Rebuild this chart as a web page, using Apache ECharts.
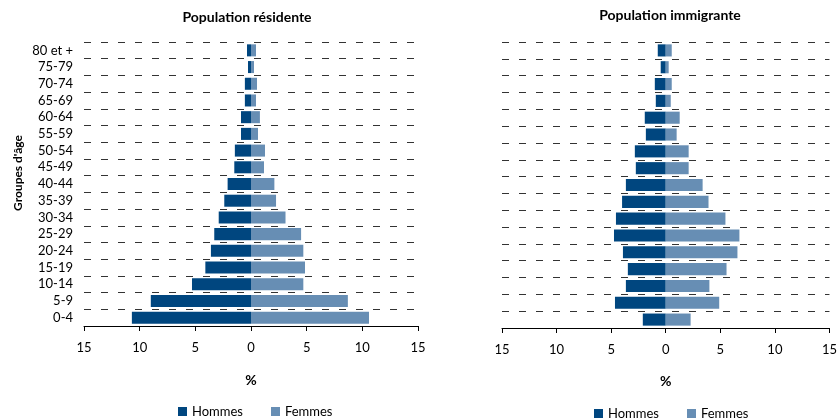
<!DOCTYPE html>
<html>
<head>
<meta charset="utf-8">
<script src="https://cdn.jsdelivr.net/npm/echarts@6/dist/echarts.min.js"></script>
<style>
  html, body { margin: 0; padding: 0; background: #fff; }
  #chart { width: 840px; height: 420px; }
</style>
</head>
<body>
<div id="chart"></div>
<script>
// Age groups, from youngest (bottom) to oldest (top)
const ageGroups = ['0-4', '5-9', '10-14', '15-19', '20-24', '25-29', '30-34', '35-39', '40-44',
  '45-49', '50-54', '55-59', '60-64', '65-69', '70-74', '75-79', '80 et +'];

// Share of each age group, in %
const residentMen = [10.7, 9.0, 5.3, 4.1, 3.6, 3.3, 2.9, 2.4, 2.1, 1.5, 1.45, 0.9, 0.9, 0.55, 0.55, 0.27, 0.36];
const residentWomen = [10.6, 8.7, 4.7, 4.85, 4.7, 4.5, 3.1, 2.25, 2.1, 1.17, 1.26, 0.63, 0.8, 0.45, 0.54, 0.27, 0.45];
const immigrantMen = [2.1, 4.65, 3.65, 3.47, 3.92, 4.74, 4.56, 4.0, 3.65, 2.74, 2.83, 1.82, 1.92, 0.91, 1.0, 0.46, 0.73];
const immigrantWomen = [2.28, 4.9, 4.0, 5.57, 6.57, 6.75, 5.47, 3.92, 3.38, 2.1, 2.1, 1.0, 1.28, 0.46, 0.55, 0.27, 0.55];

const panelTitles = ['Population résidente', 'Population immigrante'];
const seriesNames = ['Hommes', 'Femmes'];
const ageAxisTitle = "Groupes d'âge";
const axisMin = -15, axisMax = 15, axisStep = 5;

const FONT = 'Lato, "Liberation Sans", sans-serif';
const MEN_COLOR = '#00467f';
const WOMEN_COLOR = '#678eb4';

const chart = echarts.init(document.getElementById('chart'), null, { renderer: 'canvas' });

function xAxisFor(gridIndex, nameGap) {
  return {
    gridIndex,
    type: 'value',
    min: axisMin, max: axisMax, interval: axisStep,
    name: '%',
    nameLocation: 'middle',
    nameGap,
    nameTextStyle: { fontFamily: FONT, fontSize: 14, fontWeight: 'bold', color: '#000' },
    axisLine: { show: true, lineStyle: { color: '#000', width: 1 } },
    axisTick: { show: true, length: 5, lineStyle: { color: '#000' } },
    axisLabel: {
      margin: 15, fontFamily: FONT, fontSize: 13, color: '#000',
      formatter: v => String(Math.abs(v))
    },
    splitLine: { show: false }
  };
}

function yAxisFor(gridIndex, showLabels) {
  return {
    gridIndex,
    type: 'category',
    data: ageGroups,
    boundaryGap: true,
    axisLine: { show: false },
    axisTick: { show: false },
    axisLabel: {
      show: showLabels, interval: 0, hideOverlap: false, margin: 11,
      fontFamily: FONT, fontSize: 13, color: '#000'
    },
    splitLine: { show: true, interval: 0, lineStyle: { color: '#333', width: 1.2, type: [7, 10] } }
  };
}

function barSeries(name, values, negate, axisIdx, color) {
  return {
    name,
    type: 'bar',
    stack: 'panel' + axisIdx,
    xAxisIndex: axisIdx,
    yAxisIndex: axisIdx,
    barCategoryGap: '28%',
    itemStyle: { color },
    data: values.map(v => negate ? -v : v),
    silent: true
  };
}

const titleStyle = { fontFamily: FONT, fontSize: 14, fontWeight: 'bold', color: '#000' };
const legendBase = {
  data: seriesNames, icon: 'rect', itemWidth: 9, itemHeight: 9, itemGap: 28, padding: 0,
  textStyle: { fontFamily: FONT, fontSize: 13, color: '#000' }
};

const option = {
  animation: false,
  backgroundColor: '#fff',
  title: [
    { text: panelTitles[0], left: 247, top: 10, textAlign: 'center', padding: 0, textStyle: titleStyle },
    { text: panelTitles[1], left: 670, top: 8, textAlign: 'center', padding: 0, textStyle: titleStyle }
  ],
  legend: [
    Object.assign({ left: 178, top: 405 }, legendBase),
    Object.assign({ left: 594, top: 407 }, legendBase)
  ],
  grid: [
    { left: 84, right: 422, top: 42, bottom: 94 },
    { left: 502, right: 9, top: 42, bottom: 92 }
  ],
  xAxis: [xAxisFor(0, 47), xAxisFor(1, 46)],
  yAxis: [yAxisFor(0, true), yAxisFor(1, false)],
  graphic: [{
    type: 'text',
    x: 18, y: 173,
    rotation: Math.PI / 2,
    style: {
      text: ageAxisTitle, fontFamily: FONT, fontSize: 12, fontWeight: 'bold', fill: '#000',
      align: 'center', verticalAlign: 'middle'
    }
  }],
  series: [
    barSeries(seriesNames[0], residentMen, true, 0, MEN_COLOR),
    barSeries(seriesNames[1], residentWomen, false, 0, WOMEN_COLOR),
    barSeries(seriesNames[0], immigrantMen, true, 1, MEN_COLOR),
    barSeries(seriesNames[1], immigrantWomen, false, 1, WOMEN_COLOR)
  ]
};

chart.setOption(option);
</script>
</body>
</html>
